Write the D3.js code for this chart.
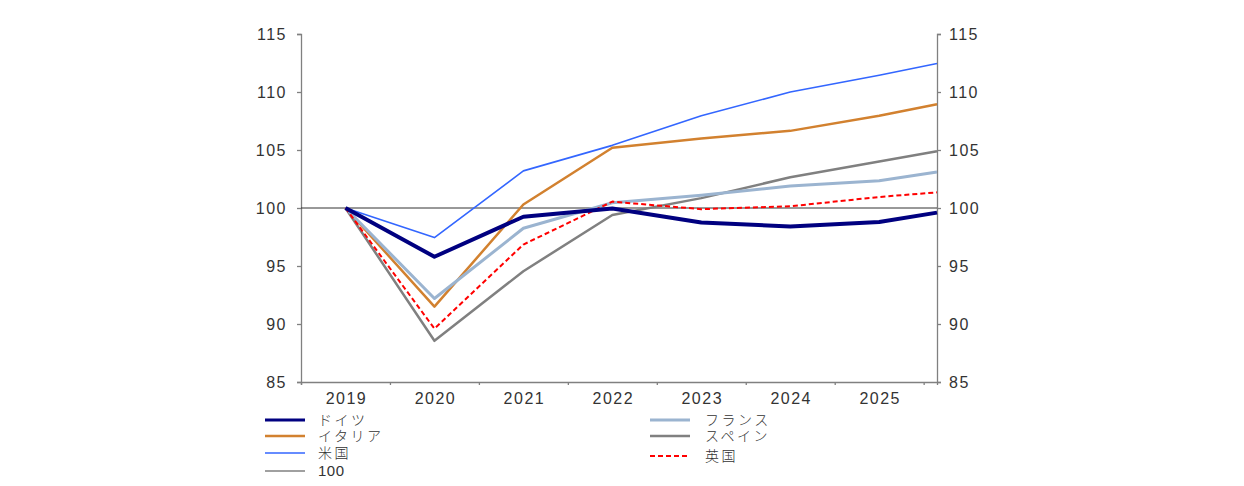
<!DOCTYPE html>
<html>
<head>
<meta charset="utf-8">
<script src="https://cdn.jsdelivr.net/npm/d3@7"></script>
<style>
  body { margin: 0; background: #fff; }
  svg text { font-family: "Liberation Sans", Arial, sans-serif; fill: #333; }
</style>
</head>
<body>
<div id="chart"></div>
<script>
// x positions in years (last point sits a bit past 2025)
var xValues = [2019, 2020, 2021, 2022, 2023, 2024, 2025, 2025.65];
var yearLabels = [2019, 2020, 2021, 2022, 2023, 2024, 2025];
var yTicks = [85, 90, 95, 100, 105, 110, 115];

var germany = [100, 95.8, 99.25, 99.95, 98.75, 98.4, 98.8, 99.6];
var italy   = [100, 91.5, 100.3, 105.2, 106.0, 106.65, 107.95, 108.95];
var usa     = [100, 97.45, 103.2, 105.4, 107.95, 110.0, 111.45, 112.45];
var france  = [100, 92.2, 98.25, 100.45, 101.1, 101.9, 102.35, 103.1];
var spain   = [100, 88.55, 94.55, 99.4, 100.85, 102.65, 104.0, 104.9];
var uk      = [100, 89.6, 96.85, 100.55, 99.9, 100.15, 100.95, 101.35];

var seriesNames = ["ドイツ", "イタリア", "米国", "100", "フランス", "スペイン", "英国"];

var WIDTH = 1244, HEIGHT = 486;
var LEFT = 301, RIGHT = 937, TOP = 34, BOTTOM = 382;

var svg = d3.select("#chart").append("svg")
    .attr("width", WIDTH)
    .attr("height", HEIGHT);

var x = d3.scaleLinear().domain([2018.5, 2025.65]).range([LEFT, RIGHT]);
var y = d3.scaleLinear().domain([85, 115]).range([BOTTOM, TOP]);

var series = [
    {name: "ドイツ", data: germany, color: "#000080", width: 4, dash: null},
    {name: "イタリア", data: italy, color: "#d2812f", width: 2.5, dash: null},
    {name: "米国", data: usa, color: "#3366ff", width: 1.6, dash: null},
    {name: "100", data: null, color: "#333333", width: 1, dash: null},
    {name: "フランス", data: france, color: "#9bb4d0", width: 3, dash: null},
    {name: "スペイン", data: spain, color: "#808080", width: 2.5, dash: null},
    {name: "英国", data: uk, color: "#ff0000", width: 2, dash: "5,3"}
];

// axes
var axisColor = "#808080";
var yLeft = svg.append("g")
    .attr("transform", "translate(" + LEFT + ",0)")
    .call(d3.axisLeft(y).tickValues(yTicks).tickSize(4).tickPadding(10));
var yRight = svg.append("g")
    .attr("transform", "translate(" + RIGHT + ",0)")
    .call(d3.axisRight(y).tickValues(yTicks).tickSize(4).tickPadding(8));

var xAxis = svg.append("g")
    .attr("transform", "translate(0," + BOTTOM + ")")
    .call(d3.axisBottom(x)
        .tickValues(d3.range(2018.5, 2025.6, 1))
        .tickSize(3)
        .tickFormat(""));

svg.append("g").selectAll("text")
    .data(yearLabels)
    .enter().append("text")
    .attr("x", function (d) { return x(d) + 1; })
    .attr("y", 404)
    .attr("text-anchor", "middle")
    .style("font-size", "16px")
    .style("letter-spacing", "1.5px")
    .text(function (d) { return d; });

[yLeft, yRight, xAxis].forEach(function (g) {
    g.select(".domain").attr("stroke", axisColor).attr("stroke-width", 1.3);
    g.selectAll(".tick line").attr("stroke", axisColor).attr("stroke-width", 1.3);
    g.selectAll(".tick text")
        .style("font-size", "16px")
        .style("letter-spacing", "1.5px")
        .attr("fill", "#333");
});

// 100 reference line
svg.append("line")
    .attr("x1", LEFT).attr("x2", RIGHT)
    .attr("y1", y(100)).attr("y2", y(100))
    .attr("stroke", "#333333")
    .attr("stroke-width", 1);

var line = d3.line()
    .x(function (d, i) { return x(xValues[i]); })
    .y(function (d) { return y(d); });

// draw order: back to front
var drawOrder = ["米国", "イタリア", "スペイン", "フランス", "英国", "ドイツ"];
drawOrder.forEach(function (n) {
    var s = series.find(function (e) { return e.name === n; });
    svg.append("path")
        .datum(s.data)
        .attr("d", line)
        .attr("fill", "none")
        .attr("stroke", s.color)
        .attr("stroke-width", s.width)
        .attr("stroke-dasharray", s.dash)
        .attr("stroke-linejoin", "round");
});

// legend
var legendRows = [420, 436, 453, 471];
var legend = svg.append("g");
series.forEach(function (s, i) {
    var col = i < 4 ? 0 : 1;
    var row = col === 0 ? i : i - 4;
    var lx = col === 0 ? 265 : 650;
    var ly = legendRows[row] + (col === 1 && row === 2 ? 3 : 0);
    legend.append("line")
        .attr("x1", lx).attr("x2", lx + 40)
        .attr("y1", ly).attr("y2", ly)
        .attr("stroke", s.name === "100" ? "#808080" : s.color)
        .attr("stroke-width", s.name === "100" ? 1.5 : Math.min(s.width, 3.2))
        .attr("stroke-dasharray", s.dash);
    legend.append("text")
        .attr("x", lx + (col === 0 ? 53 : 55))
        .attr("y", ly + 5)
        .style("font-size", s.name === "100" ? "15px" : "14px")
        .style("font-family", s.name === "100" ? "'Liberation Sans', Arial, sans-serif" : "'Noto Sans CJK JP', sans-serif")
        .style("font-weight", s.name === "100" ? "normal" : "300")
        .style("letter-spacing", s.name === "100" ? "0.5px" : "2.5px")
        .text(s.name);
});
</script>
</body>
</html>
